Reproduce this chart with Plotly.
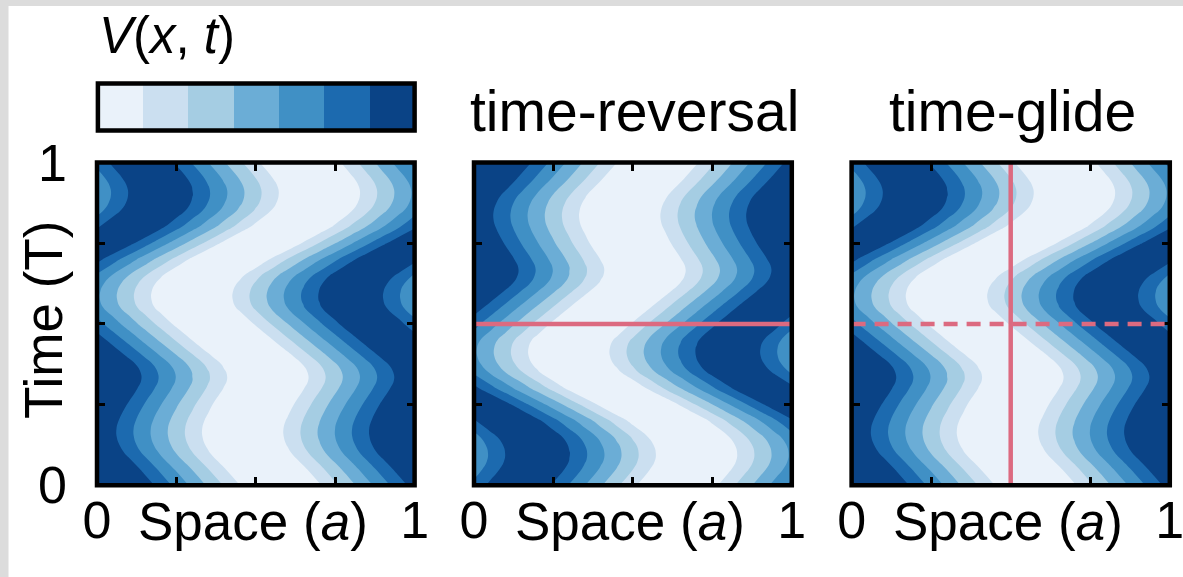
import plotly.graph_objects as go

# ---- data -------------------------------------------------------------
# sample positions in space (units of a) and time (units of T)
space = [0.0, 0.05, 0.1, 0.15, 0.2, 0.25, 0.3, 0.35, 0.4, 0.45, 0.5,
         0.55, 0.6, 0.65, 0.7, 0.75, 0.8, 0.85, 0.9, 0.95, 1.0]
time = [0.0, 0.05, 0.1, 0.125, 0.15, 0.175, 0.2, 0.25, 0.3, 0.325, 0.35, 0.375,
        0.4, 0.45, 0.5, 0.55, 0.575, 0.6, 0.625, 0.65, 0.7, 0.75, 0.8, 0.85,
        0.875, 0.9, 0.925, 0.95, 1.0]

# potential V(x, t) in contour-level units, one row per time sample
V = [
    [6.45, 7.37, 7.48, 6.56, 5.63, 4.70, 3.78, 2.85, 1.93, 1.00, 0.07, -0.85, -0.96, -0.04, 0.89, 1.82, 2.74, 3.67, 4.59, 5.52, 6.45],
    [7.28, 7.58, 6.65, 5.72, 4.80, 3.87, 2.95, 2.02, 1.09, 0.17, -0.76, -1.06, -0.13, 0.80, 1.72, 2.65, 3.57, 4.50, 5.43, 6.35, 7.28],
    [7.59, 6.67, 5.74, 4.82, 3.89, 2.96, 2.04, 1.11, 0.19, -0.74, -1.07, -0.15, 0.78, 1.70, 2.63, 3.56, 4.48, 5.41, 6.33, 7.26, 7.59],
    [7.30, 6.38, 5.45, 4.52, 3.60, 2.67, 1.75, 0.82, -0.11, -1.03, -0.78, 0.14, 1.07, 2.00, 2.92, 3.85, 4.77, 5.70, 6.63, 7.55, 7.30],
    [7.15, 6.22, 5.30, 4.37, 3.45, 2.52, 1.59, 0.67, -0.26, -1.19, -0.63, 0.30, 1.22, 2.15, 3.08, 4.00, 4.93, 5.85, 6.78, 7.70, 7.15],
    [7.14, 6.21, 5.28, 4.36, 3.43, 2.51, 1.58, 0.65, -0.27, -1.20, -0.62, 0.31, 1.24, 2.16, 3.09, 4.01, 4.94, 5.87, 6.79, 7.72, 7.14],
    [7.26, 6.33, 5.41, 4.48, 3.56, 2.63, 1.70, 0.78, -0.15, -1.07, -0.74, 0.19, 1.11, 2.04, 2.96, 3.89, 4.82, 5.74, 6.67, 7.59, 7.26],
    [7.74, 6.82, 5.89, 4.96, 4.04, 3.11, 2.19, 1.26, 0.33, -0.59, -1.22, -0.30, 0.63, 1.56, 2.48, 3.41, 4.33, 5.26, 6.19, 7.11, 7.74],
    [7.43, 7.43, 6.50, 5.58, 4.65, 3.72, 2.80, 1.87, 0.95, 0.02, -0.91, -0.91, 0.02, 0.95, 1.87, 2.80, 3.72, 4.65, 5.58, 6.50, 7.43],
    [7.21, 7.65, 6.72, 5.80, 4.87, 3.94, 3.02, 2.09, 1.17, 0.24, -0.69, -1.13, -0.20, 0.72, 1.65, 2.58, 3.50, 4.43, 5.35, 6.28, 7.21],
    [7.24, 7.61, 6.69, 5.76, 4.83, 3.91, 2.98, 2.06, 1.13, 0.20, -0.72, -1.09, -0.17, 0.76, 1.69, 2.61, 3.54, 4.46, 5.39, 6.32, 7.24],
    [7.53, 7.32, 6.40, 5.47, 4.55, 3.62, 2.69, 1.77, 0.84, -0.08, -1.01, -0.80, 0.12, 1.05, 1.97, 2.90, 3.83, 4.75, 5.68, 6.60, 7.53],
    [7.70, 6.78, 5.85, 4.93, 4.00, 3.08, 2.15, 1.22, 0.30, -0.63, -1.19, -0.26, 0.67, 1.59, 2.52, 3.45, 4.37, 5.30, 6.22, 7.15, 7.70],
    [6.54, 5.61, 4.69, 3.76, 2.83, 1.91, 0.98, 0.06, -0.87, -0.94, -0.02, 0.91, 1.83, 2.76, 3.69, 4.61, 5.54, 6.46, 7.39, 7.46, 6.54],
    [5.39, 4.46, 3.54, 2.61, 1.69, 0.76, -0.17, -1.09, -0.72, 0.20, 1.13, 2.06, 2.98, 3.91, 4.83, 5.76, 6.69, 7.61, 7.24, 6.32, 5.39],
    [4.37, 3.45, 2.52, 1.59, 0.67, -0.26, -1.19, -0.63, 0.30, 1.22, 2.15, 3.08, 4.00, 4.93, 5.85, 6.78, 7.70, 7.15, 6.22, 5.30, 4.37],
    [4.17, 3.25, 2.32, 1.40, 0.47, -0.46, -1.36, -0.43, 0.49, 1.42, 2.35, 3.27, 4.20, 5.12, 6.05, 6.98, 7.88, 6.95, 6.03, 5.10, 4.17],
    [4.19, 3.26, 2.33, 1.41, 0.48, -0.44, -1.37, -0.44, 0.48, 1.41, 2.33, 3.26, 4.19, 5.11, 6.04, 6.96, 7.89, 6.96, 6.04, 5.11, 4.19],
    [4.41, 3.48, 2.55, 1.63, 0.70, -0.22, -1.15, -0.66, 0.26, 1.19, 2.11, 3.04, 3.97, 4.89, 5.82, 6.74, 7.67, 7.18, 6.26, 5.33, 4.41],
    [4.83, 3.91, 2.98, 2.06, 1.13, 0.20, -0.72, -1.09, -0.17, 0.76, 1.69, 2.61, 3.54, 4.46, 5.39, 6.32, 7.24, 7.61, 6.69, 5.76, 4.83],
    [6.32, 5.39, 4.46, 3.54, 2.61, 1.69, 0.76, -0.17, -1.09, -0.72, 0.20, 1.13, 2.06, 2.98, 3.91, 4.83, 5.76, 6.69, 7.61, 7.24, 6.32],
    [7.61, 7.24, 6.32, 5.39, 4.46, 3.54, 2.61, 1.69, 0.76, -0.17, -1.09, -0.72, 0.20, 1.13, 2.06, 2.98, 3.91, 4.83, 5.76, 6.69, 7.61],
    [5.85, 6.78, 7.70, 7.15, 6.22, 5.30, 4.37, 3.45, 2.52, 1.59, 0.67, -0.26, -1.19, -0.63, 0.30, 1.22, 2.15, 3.08, 4.00, 4.93, 5.85],
    [4.65, 5.58, 6.50, 7.43, 7.43, 6.50, 5.58, 4.65, 3.72, 2.80, 1.87, 0.95, 0.02, -0.91, -0.91, 0.02, 0.95, 1.87, 2.80, 3.72, 4.65],
    [4.32, 5.25, 6.17, 7.10, 7.76, 6.83, 5.90, 4.98, 4.05, 3.13, 2.20, 1.27, 0.35, -0.58, -1.24, -0.31, 0.62, 1.54, 2.47, 3.39, 4.32],
    [4.19, 5.11, 6.04, 6.96, 7.89, 6.96, 6.04, 5.11, 4.19, 3.26, 2.33, 1.41, 0.48, -0.44, -1.37, -0.44, 0.48, 1.41, 2.33, 3.26, 4.19],
    [4.25, 5.17, 6.10, 7.02, 7.83, 6.90, 5.98, 5.05, 4.13, 3.20, 2.27, 1.35, 0.42, -0.50, -1.31, -0.38, 0.54, 1.47, 2.39, 3.32, 4.25],
    [4.50, 5.43, 6.35, 7.28, 7.58, 6.65, 5.72, 4.80, 3.87, 2.95, 2.02, 1.09, 0.17, -0.76, -1.06, -0.13, 0.80, 1.72, 2.65, 3.57, 4.50],
    [5.30, 6.22, 7.15, 7.70, 6.78, 5.85, 4.93, 4.00, 3.08, 2.15, 1.22, 0.30, -0.63, -1.19, -0.26, 0.67, 1.59, 2.52, 3.45, 4.37, 5.30],
]

# time-reversed copy of the field: t -> T - t
time_reversed = [round(1 - t, 3) for t in time[::-1]]
V_reversed = V[::-1]

# symmetry lines
mirror_time = 0.5   # time-reversal axis
glide_time = 0.5    # half-period shift of the glide
glide_space = 0.5   # mirror plane of the glide

panel_titles = ["", "time-reversal", "time-glide"]
tick_positions = [0, 0.25, 0.5, 0.75, 1]
tick_labels = ["0", "", "", "", "1"]

# contour bands (0 = lowest V, 6 = highest V) and their seven-step Blues palette
bands = [0, 1, 2, 3, 4, 5, 6]
band_colors = ["#eaf2fa", "#cbdff0", "#a5cde3", "#6badd6",
               "#4090c5", "#1c6aaf", "#0a4386"]

# ---- geometry (pixels) --------------------------------------------------
W, H = 1183, 577
panel_x = [(97.0, 414.6), (474.0, 791.8), (851.6, 1169.8)]
panel_y = (162.6, 485.2)   # top, bottom
cbar_x = (97.9, 414.6)
cbar_y = (83.5, 130.5)     # top, bottom
FONT = "Liberation Sans, Arial, Helvetica, sans-serif"
RED = "#dc6a80"


def px_x(p):
    return p / W


def px_y(p):
    return 1 - p / H


colorscale = [[i / 6, c] for i, c in enumerate(band_colors)]

fig = go.Figure()

fields = [(time, V), (time_reversed, V_reversed), (time, V)]
for k, (tt, field) in enumerate(fields):
    suffix = "" if k == 0 else str(k + 1)
    fig.add_trace(go.Contour(
        x=space, y=tt, z=field,
        xaxis="x" + suffix, yaxis="y" + suffix,
        colorscale=colorscale,
        contours=dict(start=1, end=6, size=1, coloring="fill", showlines=False),
        line=dict(width=0, smoothing=1.3),
        showscale=False,
        hoverinfo="skip",
    ))

# colour key: one cell per band
fig.add_trace(go.Heatmap(
    x=bands, y=[0], z=[bands], xaxis="x4", yaxis="y4",
    colorscale=colorscale, zmin=0, zmax=6, showscale=False, hoverinfo="skip",
))

axis_common = dict(
    range=[0, 1], tickmode="array", tickvals=tick_positions, ticktext=tick_labels,
    ticks="inside", ticklen=8, tickwidth=3, tickcolor="black", mirror="ticks",
    showline=False, showgrid=False, zeroline=False, automargin=False,
    ticklabeloverflow="allow",
    tickfont=dict(family=FONT, size=52, color="black"),
)

layout = dict(
    width=W, height=H, autosize=False,
    margin=dict(l=0, r=0, t=0, b=0, pad=0),
    paper_bgcolor="white", plot_bgcolor="white",
    showlegend=False,
    font=dict(family=FONT, color="black"),
)
for k, (x0, x1) in enumerate(panel_x):
    suffix = "" if k == 0 else str(k + 1)
    layout["xaxis" + suffix] = dict(
        axis_common, domain=[px_x(x0), px_x(x1)], anchor="y" + suffix,
        ticklabelstandoff=0,
    )
    layout["yaxis" + suffix] = dict(
        axis_common, domain=[px_y(panel_y[1]), px_y(panel_y[0])], anchor="x" + suffix,
        showticklabels=(k == 0), ticklabelstandoff=29,
    )
layout["xaxis4"] = dict(domain=[px_x(cbar_x[0]), px_x(cbar_x[1])], anchor="y4",
                        range=[-0.5, 6.5], visible=False, automargin=False)
layout["yaxis4"] = dict(domain=[px_y(cbar_y[1]), px_y(cbar_y[0])], anchor="x4",
                        range=[-0.5, 0.5], visible=False, automargin=False)
fig.update_layout(**layout)

shapes = []
# grey strips along the top and left page edges
shapes.append(dict(type="rect", xref="paper", yref="paper", x0=0, x1=px_x(8.5),
                   y0=0, y1=1, fillcolor="#dcdcdc", line=dict(width=0), layer="below"))
shapes.append(dict(type="rect", xref="paper", yref="paper", x0=0, x1=1,
                   y0=px_y(6), y1=1, fillcolor="#dcdcdc", line=dict(width=0), layer="below"))
# symmetry lines
shapes.append(dict(type="line", xref="x2", yref="y2", x0=0, x1=1,
                   y0=mirror_time, y1=mirror_time, line=dict(color=RED, width=4.5)))
shapes.append(dict(type="line", xref="x3", yref="y3", x0=glide_space, x1=glide_space,
                   y0=0, y1=1, line=dict(color=RED, width=4.5)))
shapes.append(dict(type="line", xref="x3", yref="y3", x0=0, x1=1,
                   y0=glide_time, y1=glide_time,
                   line=dict(color=RED, width=4.5, dash="14px,9px")))
# panel and colour-key frames
for suffix in ["", "2", "3", "4"]:
    shapes.append(dict(type="rect", xref="x" + suffix + " domain", yref="y" + suffix + " domain",
                       x0=0, x1=1, y0=0, y1=1, line=dict(color="black", width=4.5),
                       layer="above"))
fig.update_layout(shapes=shapes)

annotations = []
for k, title in enumerate(panel_titles):
    if title:
        x0, x1 = panel_x[k]
        annotations.append(dict(text=title, xref="paper", yref="paper",
                                x=px_x((x0 + x1) / 2 + 2), y=px_y(111),
                                xanchor="center", yanchor="middle", showarrow=False,
                                font=dict(family=FONT, size=57, color="black")))
for k in range(3):
    x0, x1 = panel_x[k]
    annotations.append(dict(text="Space (<i>a</i>)", xref="paper", yref="paper",
                            x=px_x((x0 + x1) / 2 - 3), y=px_y(521),
                            xanchor="center", yanchor="middle", showarrow=False,
                            font=dict(family=FONT, size=53, color="black")))
annotations.append(dict(text="Time (T)", xref="paper", yref="paper",
                        x=px_x(44), y=px_y((panel_y[0] + panel_y[1]) / 2 - 4),
                        xanchor="center", yanchor="middle", textangle=-90, showarrow=False,
                        font=dict(family=FONT, size=53, color="black")))
annotations.append(dict(text="<i>V</i>(<i>x</i>, <i>t</i>)", xref="paper", yref="paper",
                        x=px_x(97), y=px_y(35), xanchor="left", yanchor="middle",
                        showarrow=False, font=dict(family=FONT, size=51, color="black")))
fig.update_layout(annotations=annotations)

fig.write_html("out.html", config={"displayModeBar": False})
